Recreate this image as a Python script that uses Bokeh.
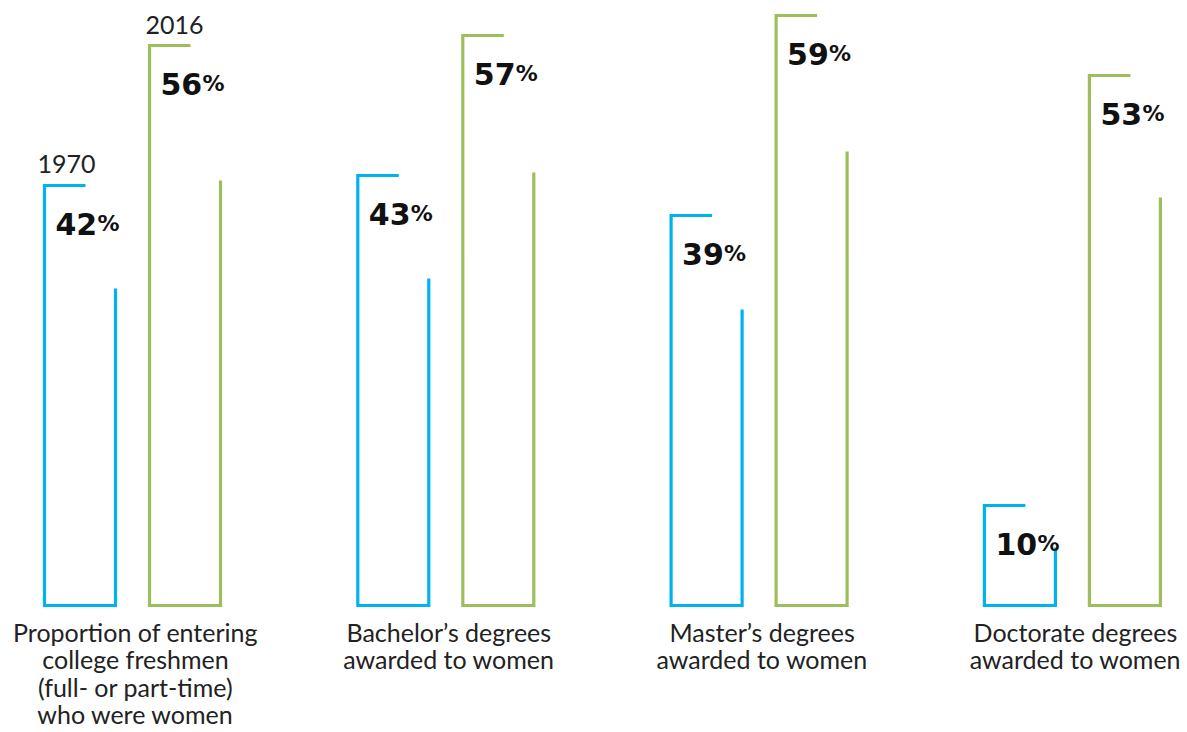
from bokeh.plotting import figure
from bokeh.models import Range1d, ColumnDataSource
from bokeh.embed import file_html
from bokeh.resources import INLINE
from bokeh.core.properties import value

# ---- data ----
categories = [
    "Proportion of entering\ncollege freshmen\n(full- or part-time)\nwho were women",
    "Bachelor\u2019s degrees\nawarded to women",
    "Master\u2019s degrees\nawarded to women",
    "Doctorate degrees\nawarded to women",
]
years = ["1970", "2016"]
pct_1970 = [42, 43, 39, 10]
pct_2016 = [56, 57, 59, 53]
# height of the inner (right-hand) stroke of each bracket
inner_1970 = [31.7, 32.7, 29.6, 5.8]
inner_2016 = [42.5, 43.3, 45.4, 40.8]

BLUE = "#00B3EF"
GREEN = "#9CBF5B"

W, H = 1187, 732
PXX = 313.3   # pixels per group
PXY = 10.0    # pixels per percent
x0 = -132 / PXX
y0 = -(H - 605) / PXY

p = figure(width=W, height=H, output_backend="svg", toolbar_location=None,
           x_range=Range1d(x0, x0 + W / PXX), y_range=Range1d(y0, y0 + H / PXY),
           min_border=0, outline_line_color=None, background_fill_color="white",
           border_fill_color="white")
p.axis.visible = False
p.grid.visible = False

def px(d):
    return d / PXX

series = [(pct_1970, inner_1970, BLUE, -88, -17), (pct_2016, inner_2016, GREEN, 17, 88)]

for vals, inner, color, lo, ro in series:
    xs, ys = [], []
    for i, (v, iv) in enumerate(zip(vals, inner)):
        L = i + px(lo)
        R = i + px(ro)
        xs.append([L + px(41), L, L, R, R])
        ys.append([v, v, 0, 0, iv])
    p.multi_line(xs=xs, ys=ys, line_color=color, line_width=3.2,
                 line_join="miter", line_cap="butt")
    src = ColumnDataSource(dict(
        x=[i + px(lo) + px(11) for i in range(len(vals))],
        xp=[i + px(lo) + px(53) for i in range(len(vals))],
        y=[v - 38 / PXY for v in vals],
        t=[str(v) for v in vals],
        pc=["%"] * len(vals),
    ))
    p.text(x="x", y="y", text="t", source=src, text_font=value("DejaVu Sans"),
           text_font_style="bold", text_font_size="30px", text_color="#111111",
           text_align="left", text_baseline="alphabetic")
    p.text(x="xp", y="y", text="pc", source=src, text_font=value("DejaVu Sans"),
           text_font_style="bold", text_font_size="22px", text_color="#111111",
           text_align="left", text_baseline="alphabetic")

# year labels above the first group
yl = ColumnDataSource(dict(
    x=[0 + px(-88) - px(7), 0 + px(17) - px(4)],
    y=[pct_1970[0] + 22 / PXY, pct_2016[0] + 21 / PXY],
    t=years,
))
p.text(x="x", y="y", text="t", source=yl, text_font=value("Lato"),
       text_font_size="25px", text_color="#222222",
       text_align="left", text_baseline="alphabetic")

# category labels
cl = ColumnDataSource(dict(
    x=[i + px(3) for i in range(len(categories))],
    y=[-(616 - 605) / PXY] * len(categories),
    t=categories,
))
p.text(x="x", y="y", text="t", source=cl, text_font=value("Lato"),
       text_font_size="25px", text_color="#222222", text_line_height=0.92,
       text_align="center", text_baseline="top")

open("out.html", "w").write(file_html(p, INLINE))
